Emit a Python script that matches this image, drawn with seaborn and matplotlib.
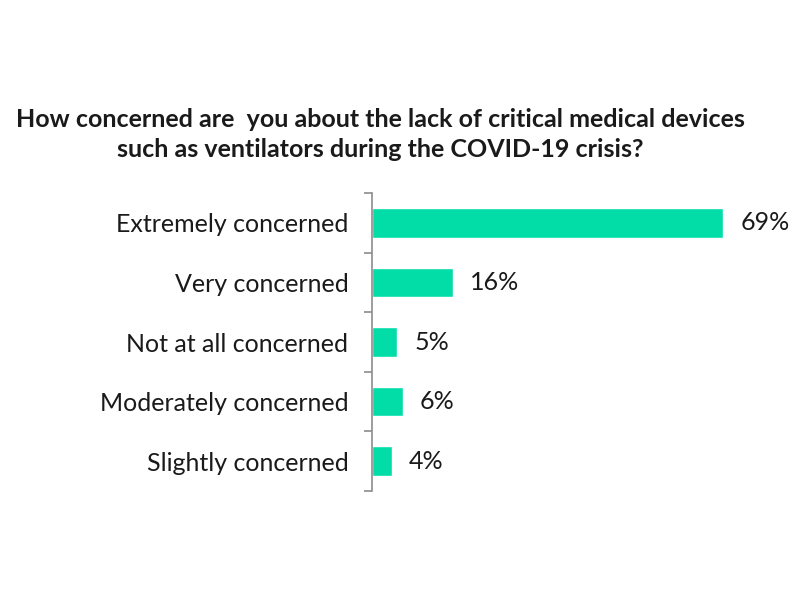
import matplotlib
matplotlib.use("Agg")
import matplotlib.pyplot as plt
import seaborn as sns
import pandas as pd
import numpy as np

# dados do gráfico
categorias = ["Extremely concerned", "Very concerned", "Not at all concerned",
              "Moderately concerned", "Slightly concerned"]
valores = [69, 16, 5, 6, 4]
rotulos = ["69%", "16%", "5%", "6%", "4%"]

df = pd.DataFrame({"categoria": categorias, "valor": valores})

sns.set_style("white")
plt.rcParams['font.family'] = ['Lato', 'DejaVu Sans']

fig = plt.figure(figsize=(8, 6), dpi=100)
ax = fig.add_axes([0.465, 0.182, 0.503, 0.496])

sns.barplot(data=df, x="valor", y="categoria", orient="h", color="#02DDA8",
            saturation=1, width=0.5, ax=ax)

ax.set_xlim(0, 79)
ax.set_ylim(4.5, -0.5)
ax.set_xlabel("")
ax.set_ylabel("")
ax.set_xticks([])

for s in ["top", "right", "bottom"]:
    ax.spines[s].set_visible(False)
ax.spines["left"].set_color("#8c8c8c")
ax.spines["left"].set_linewidth(1.2)

# ticks entre as categorias, estilo Excel
ax.tick_params(axis="y", which="major", left=True, length=0, pad=17, labelsize=18,
               labelcolor="#1a1a1a")
ax.set_yticks(np.arange(-0.5, 5, 1), minor=True)
ax.tick_params(axis="y", which="minor", left=True, length=6, width=1.2, color="#8c8c8c")

for i, v in enumerate(valores):
    ax.annotate(rotulos[i], (v, i), xytext=(12, 0), textcoords="offset points",
                va="center", ha="left", fontsize=18, color="#1a1a1a")

fig.text(0.475, 0.776, "How concerned are  you about the lack of critical medical devices\n"
         "such as ventilators during the COVID-19 crisis?",
         ha="center", va="center", fontsize=18, fontweight="bold",
         color="#1a1a1a", linespacing=1.4)

fig.savefig("out.png", dpi=100)
